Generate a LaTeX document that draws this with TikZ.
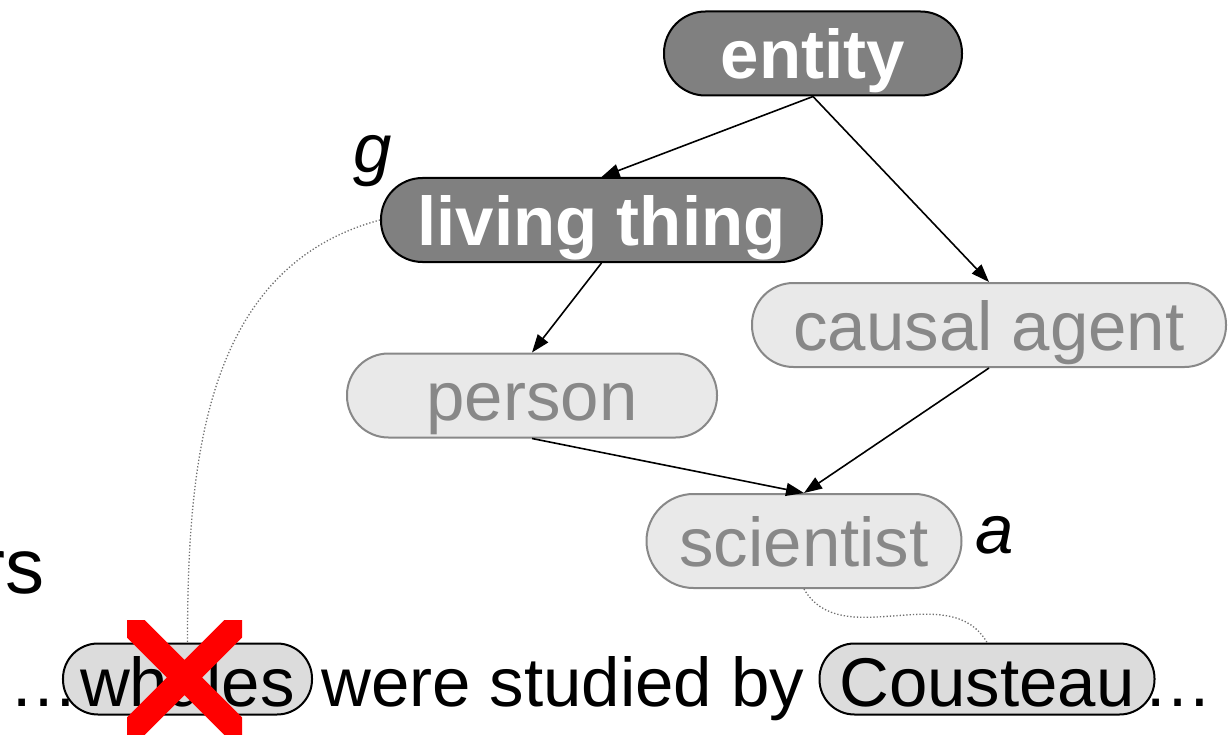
\documentclass[tikz,border=0pt]{standalone}
\usepackage{fontspec}
\setmainfont{Liberation Sans}
\usetikzlibrary{arrows.meta}
\definecolor{nodegray}{HTML}{808080}
\definecolor{palegray}{HTML}{E9E9E9}
\definecolor{edgegray}{HTML}{888888}
\definecolor{wordgray}{HTML}{DCDCDC}
\definecolor{linkgray}{HTML}{707070}
\begin{document}
\begin{tikzpicture}[x=1bp,y=1bp]
        \useasboundingbox (0,-735) rectangle (1228,0);
        \tikzstyle{pill} = [rectangle,inner sep=0pt,line width=2bp,font=\fontsize{69bp}{80bp}\selectfont,text height=52bp,text depth=2bp]
        \tikzstyle{dark} = [pill,draw=black,fill=nodegray,text=white,font=\fontsize{69bp}{80bp}\selectfont\bfseries,minimum height=84bp,rounded corners=41.5bp]
        \tikzstyle{pale} = [pill,draw=edgegray,fill=palegray,text=edgegray,minimum height=84bp,rounded corners=41.5bp]
        \tikzstyle{word} = [pill,draw=black,fill=wordgray,minimum height=71bp,rounded corners=35bp,text height=56bp]
        \tikzstyle{txt} = [inner sep=0pt,font=\fontsize{69bp}{80bp}\selectfont]
        \tikzstyle{link} = [draw=linkgray,line width=1.3bp,dash pattern=on 1.3bp off 2bp]
        % hierarchy
        \node (ent)[dark,minimum width=298bp] at (813,-53.5) {entity};
        \node (liv)[dark,minimum width=441bp] at (601.5,-220) {living thing};
        \node (cau)[pale,minimum width=474bp] at (989,-325) {causal agent};
        \node (per)[pale,minimum width=370bp] at (532,-395.5) {person};
        \node (sci)[pale,minimum width=315bp,minimum height=94bp,rounded corners=47bp] at (804,-541) {scientist};
        \node (g)[txt,anchor=base] at (373,-173) {\itshape g};
        \node (a)[txt,anchor=base] at (995,-553) {\itshape a};
        \node (rs)[inner sep=0pt,anchor=base east,font=\fontsize{78bp}{90bp}\selectfont] at (45,-593) {rs};
        \foreach \s/\t in {ent/liv,ent/cau,liv/per,per/sci,cau/sci}{
          \draw[-{Triangle[length=18bp,width=13bp]},line width=1.6bp] (\s.south) -- (\t.north);
        }
        % sentence
        \node (dotsl)[txt,anchor=base west] at (9,-706) {…};
        \node (wha)[word,minimum width=249bp] at (187.5,-679) {whales};
        \node (were)[txt,anchor=base west] at (321,-706) {were studied by};
        \node (cou)[word,minimum width=335bp] at (987,-679) {Cousteau};
        \node (dotsr)[txt,anchor=base west] at (1143,-706) {…};
        \path[link] (liv.west) to[out=195,in=90] (wha.north);
        \path[link] (sci.south) to[out=-60,in=120] (cou.north);
        \begin{scope}
          \clip (127,-620) rectangle (242,-735);
          \draw[red,line width=25bp] (112,-605) -- (257,-750) (257,-605) -- (112,-750);
        \end{scope}
      \end{tikzpicture}
\end{document}
